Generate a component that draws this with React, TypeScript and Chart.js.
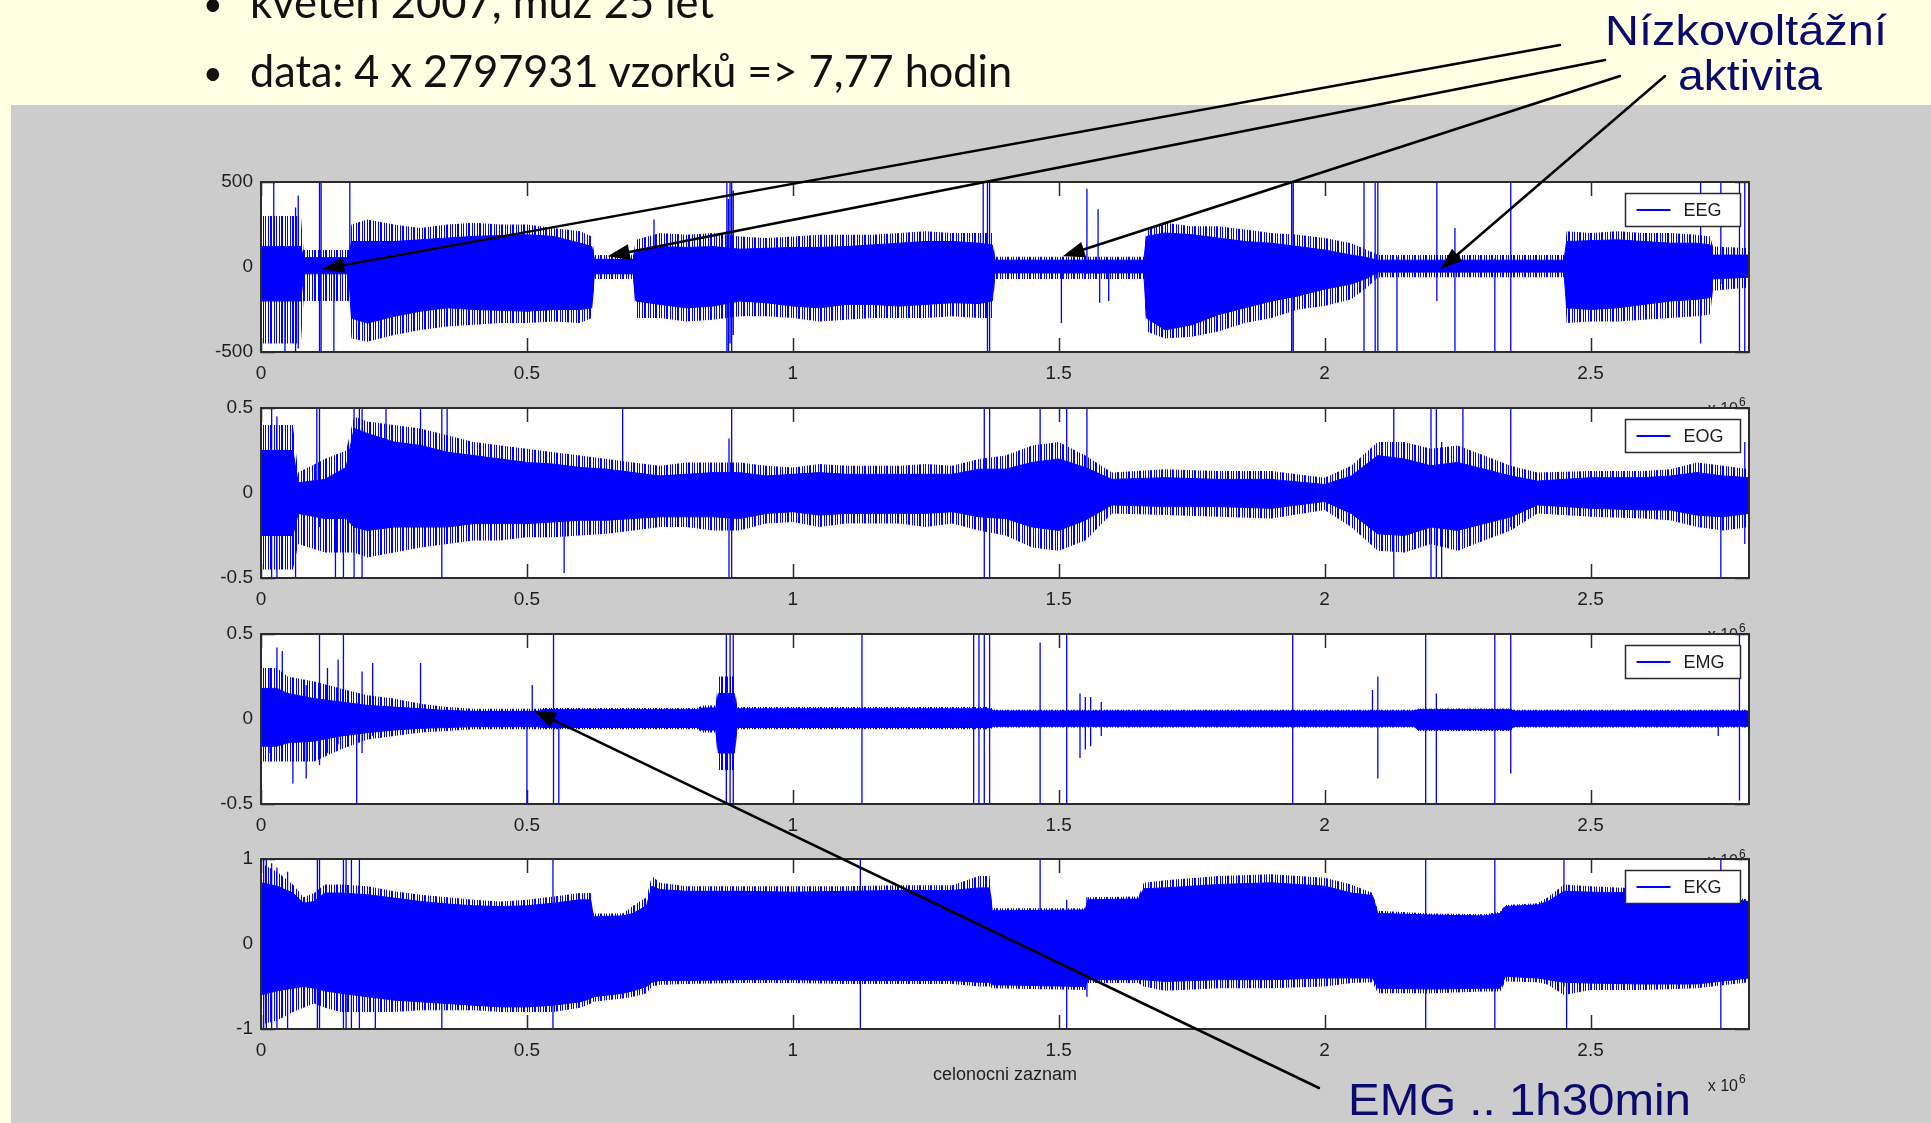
import { useEffect, useRef } from "react";
import { Chart, registerables } from "chart.js";

Chart.register(...registerables);

// Horizontal axis: sample index, in units of 10^6 samples
const SAMPLE_COUNT = 2.797931;
const X_STEP = 0.5;

// ---------- EEG (µV) ----------
const eegX = [0, 0.075, 0.08, 0.165, 0.17, 0.2, 0.25, 0.3, 0.35, 0.4, 0.45, 0.5, 0.55, 0.6, 0.622, 0.627, 0.7, 0.705, 0.75, 0.8, 0.85, 0.9, 0.95, 1.0, 1.05, 1.1, 1.15, 1.2, 1.25, 1.3, 1.35, 1.375, 1.38, 1.66, 1.665, 1.7, 1.75, 1.8, 1.85, 1.9, 1.95, 2.0, 2.05, 2.08, 2.1, 2.45, 2.455, 2.5, 2.55, 2.6, 2.65, 2.7, 2.725, 2.73, 2.797931];
const eegHi = [120, 120, 55, 55, 150, 150, 150, 160, 170, 180, 185, 190, 180, 140, 120, 45, 45, 100, 120, 115, 120, 105, 110, 115, 115, 120, 130, 140, 150, 150, 140, 130, 40, 40, 180, 200, 190, 170, 150, 140, 120, 100, 70, 55, 40, 40, 150, 155, 160, 150, 140, 140, 130, 70, 70];
const eegLo = [-200, -200, -40, -40, -300, -330, -290, -260, -240, -250, -255, -260, -250, -250, -240, -40, -40, -200, -220, -240, -230, -200, -210, -230, -240, -220, -220, -230, -220, -210, -215, -200, -35, -35, -300, -370, -340, -280, -240, -200, -170, -130, -100, -65, -30, -30, -240, -250, -240, -220, -200, -190, -180, -70, -60];
const eegPeakHi = [300, 300, 100, 100, 250, 280, 250, 230, 250, 260, 250, 250, 230, 210, 180, 70, 70, 160, 200, 190, 200, 180, 170, 180, 190, 190, 190, 200, 210, 200, 200, 200, 60, 60, 230, 260, 240, 240, 220, 200, 190, 170, 140, 100, 70, 70, 210, 200, 210, 200, 200, 190, 180, 120, 110];
const eegPeakLo = [-450, -450, -200, -200, -420, -440, -400, -370, -350, -340, -330, -330, -320, -330, -300, -70, -70, -300, -300, -320, -310, -290, -290, -300, -320, -310, -300, -300, -300, -290, -300, -300, -70, -70, -380, -420, -410, -380, -330, -300, -250, -230, -190, -120, -60, -60, -330, -320, -320, -310, -300, -290, -280, -140, -120];
const eegSpikeX = [0.024, 0.045, 0.065, 0.07, 0.11, 0.113, 0.137, 0.167, 0.739, 0.876, 0.879, 0.882, 0.885, 0.888, 1.358, 1.366, 1.37, 1.505, 1.553, 1.574, 1.577, 1.594, 1.938, 1.941, 2.074, 2.095, 2.1, 2.136, 2.211, 2.245, 2.32, 2.35, 2.707, 2.745, 2.78, 2.79];
const eegSpikeLo = [-100, -500, -500, -480, -500, -500, -500, -100, -100, -500, -500, -450, -500, -400, -200, -500, -500, -330, -40, -40, -210, -200, -500, -500, -500, -500, -500, -500, -200, -500, -500, -500, -450, -100, -500, -500];
const eegSpikeHi = [500, 100, 350, 420, 500, 500, 50, 500, 280, 500, 400, 500, 500, 450, 500, 500, 500, 40, 460, 340, 40, 40, 500, 500, 500, 500, 500, 60, 500, 230, 50, 500, 500, 500, 500, 500];

// ---------- EOG ----------
const eogX = [0, 0.06, 0.07, 0.12, 0.16, 0.175, 0.2, 0.25, 0.3, 0.35, 0.4, 0.45, 0.5, 0.55, 0.6, 0.65, 0.7, 0.75, 0.8, 0.85, 0.9, 0.95, 1.0, 1.05, 1.1, 1.15, 1.2, 1.25, 1.3, 1.35, 1.4, 1.45, 1.5, 1.55, 1.6, 1.7, 1.8, 1.9, 2.0, 2.05, 2.1, 2.15, 2.2, 2.25, 2.3, 2.35, 2.4, 2.5, 2.6, 2.65, 2.7, 2.75, 2.797931];
const eogHi = [0.25, 0.25, 0.06, 0.08, 0.15, 0.38, 0.35, 0.3, 0.28, 0.24, 0.22, 0.2, 0.18, 0.17, 0.15, 0.14, 0.12, 0.1, 0.11, 0.12, 0.12, 0.1, 0.11, 0.12, 0.11, 0.11, 0.11, 0.11, 0.11, 0.14, 0.14, 0.18, 0.2, 0.15, 0.08, 0.09, 0.08, 0.08, 0.05, 0.1, 0.22, 0.2, 0.16, 0.18, 0.14, 0.1, 0.07, 0.09, 0.09, 0.1, 0.12, 0.1, 0.09];
const eogLo = [-0.25, -0.25, -0.12, -0.15, -0.15, -0.2, -0.22, -0.2, -0.2, -0.2, -0.18, -0.18, -0.18, -0.17, -0.16, -0.16, -0.15, -0.14, -0.14, -0.14, -0.15, -0.12, -0.11, -0.13, -0.12, -0.12, -0.12, -0.12, -0.11, -0.14, -0.15, -0.2, -0.22, -0.16, -0.07, -0.08, -0.08, -0.09, -0.05, -0.12, -0.24, -0.25, -0.2, -0.22, -0.18, -0.14, -0.07, -0.09, -0.1, -0.1, -0.13, -0.14, -0.12];
const eogPeakHi = [0.4, 0.4, 0.12, 0.2, 0.25, 0.45, 0.42, 0.4, 0.38, 0.34, 0.3, 0.28, 0.26, 0.24, 0.22, 0.2, 0.18, 0.16, 0.18, 0.18, 0.18, 0.16, 0.15, 0.17, 0.16, 0.16, 0.16, 0.17, 0.16, 0.2, 0.22, 0.28, 0.3, 0.22, 0.12, 0.14, 0.13, 0.13, 0.09, 0.16, 0.3, 0.3, 0.26, 0.28, 0.22, 0.16, 0.12, 0.13, 0.13, 0.14, 0.18, 0.16, 0.14];
const eogPeakLo = [-0.45, -0.45, -0.3, -0.35, -0.35, -0.35, -0.38, -0.35, -0.32, -0.3, -0.28, -0.28, -0.26, -0.26, -0.25, -0.24, -0.22, -0.2, -0.2, -0.22, -0.22, -0.18, -0.17, -0.2, -0.18, -0.18, -0.18, -0.2, -0.18, -0.22, -0.25, -0.32, -0.34, -0.28, -0.12, -0.13, -0.14, -0.15, -0.1, -0.2, -0.34, -0.35, -0.3, -0.34, -0.28, -0.22, -0.12, -0.14, -0.15, -0.16, -0.2, -0.22, -0.2];
const eogSpikeX = [0.02, 0.03, 0.065, 0.105, 0.11, 0.14, 0.155, 0.175, 0.185, 0.19, 0.235, 0.3, 0.34, 0.35, 0.57, 0.68, 0.88, 0.885, 1.36, 1.37, 1.465, 1.515, 1.553, 2.13, 2.2, 2.21, 2.22, 2.26, 2.35, 2.745, 2.79];
const eogSpikeLo = [-0.5, -0.5, -0.5, -0.1, -0.2, -0.5, -0.5, -0.5, -0.3, -0.5, -0.1, -0.1, -0.5, -0.1, -0.47, -0.1, -0.5, -0.5, -0.5, -0.5, -0.2, -0.2, -0.1, -0.5, -0.5, -0.5, -0.5, -0.2, -0.2, -0.5, -0.3];
const eogSpikeHi = [0.5, 0.45, 0.1, 0.5, 0.5, 0.1, 0.1, 0.5, 0.5, 0.5, 0.5, 0.5, 0.5, 0.5, 0.1, 0.5, 0.32, 0.5, 0.5, 0.5, 0.5, 0.5, 0.5, 0.5, 0.5, 0.5, 0.3, 0.5, 0.5, 0.1, 0.3];

// ---------- EMG ----------
const emgX = [0, 0.03, 0.05, 0.1, 0.15, 0.2, 0.25, 0.3, 0.35, 0.4, 0.52, 0.53, 0.82, 0.83, 0.855, 0.86, 0.89, 0.895, 1.37, 1.38, 2.17, 2.175, 2.35, 2.355, 2.797931];
const emgHi = [0.18, 0.18, 0.15, 0.12, 0.1, 0.08, 0.07, 0.06, 0.05, 0.045, 0.045, 0.055, 0.055, 0.065, 0.065, 0.15, 0.15, 0.06, 0.06, 0.047, 0.047, 0.055, 0.055, 0.047, 0.047];
const emgLo = [-0.16, -0.16, -0.14, -0.13, -0.1, -0.08, -0.065, -0.055, -0.05, -0.045, -0.045, -0.05, -0.05, -0.065, -0.065, -0.2, -0.2, -0.05, -0.05, -0.043, -0.043, -0.063, -0.063, -0.043, -0.043];
const emgPeakHi = [0.3, 0.3, 0.25, 0.22, 0.18, 0.14, 0.12, 0.09, 0.07, 0.06, 0.06, 0.065, 0.065, 0.08, 0.08, 0.25, 0.25, 0.07, 0.07, 0.055, 0.055, 0.062, 0.062, 0.055, 0.055];
const emgPeakLo = [-0.25, -0.25, -0.25, -0.25, -0.18, -0.12, -0.1, -0.08, -0.07, -0.06, -0.06, -0.06, -0.06, -0.08, -0.08, -0.3, -0.3, -0.06, -0.06, -0.05, -0.05, -0.07, -0.07, -0.05, -0.05];
const emgSpikeX = [0.015, 0.03, 0.04, 0.06, 0.085, 0.11, 0.125, 0.145, 0.155, 0.18, 0.19, 0.21, 0.3, 0.5, 0.51, 0.55, 0.56, 0.875, 0.882, 0.888, 1.13, 1.34, 1.35, 1.36, 1.37, 1.465, 1.515, 1.54, 1.55, 1.56, 1.58, 1.94, 2.09, 2.1, 2.19, 2.21, 2.32, 2.35, 2.74, 2.78];
const emgSpikeLo = [-0.2, -0.1, -0.15, -0.38, -0.35, -0.27, -0.2, -0.15, -0.1, -0.5, -0.2, -0.1, -0.05, -0.5, -0.05, -0.5, -0.5, -0.5, -0.5, -0.5, -0.5, -0.5, -0.5, -0.5, -0.5, -0.5, -0.5, -0.23, -0.18, -0.16, -0.1, -0.5, -0.05, -0.35, -0.5, -0.5, -0.5, -0.32, -0.1, -0.48];
const emgSpikeHi = [0.3, 0.42, 0.4, 0.1, 0.2, 0.5, 0.3, 0.35, 0.5, 0.1, 0.28, 0.33, 0.33, 0.05, 0.2, 0.5, 0.05, 0.5, 0.5, 0.5, 0.5, 0.5, 0.5, 0.5, 0.5, 0.45, 0.5, 0.15, 0.13, 0.13, 0.1, 0.5, 0.17, 0.25, 0.5, 0.15, 0.5, 0.5, 0.05, 0.5];

// ---------- EKG ----------
const ekgX = [0, 0.03, 0.06, 0.08, 0.1, 0.12, 0.15, 0.2, 0.25, 0.3, 0.35, 0.4, 0.45, 0.5, 0.55, 0.6, 0.62, 0.625, 0.68, 0.7, 0.725, 0.735, 0.75, 0.8, 0.9, 1.0, 1.1, 1.2, 1.3, 1.35, 1.37, 1.375, 1.55, 1.555, 1.65, 1.66, 1.7, 1.8, 1.9, 2.0, 2.05, 2.09, 2.1, 2.2, 2.3, 2.33, 2.34, 2.4, 2.42, 2.45, 2.5, 2.6, 2.7, 2.797931];
const ekgHi = [0.72, 0.68, 0.6, 0.48, 0.5, 0.6, 0.6, 0.58, 0.54, 0.5, 0.47, 0.45, 0.44, 0.45, 0.48, 0.52, 0.52, 0.32, 0.33, 0.36, 0.45, 0.68, 0.64, 0.62, 0.62, 0.61, 0.62, 0.63, 0.63, 0.66, 0.66, 0.39, 0.4, 0.52, 0.53, 0.65, 0.66, 0.7, 0.72, 0.68, 0.6, 0.57, 0.36, 0.34, 0.33, 0.36, 0.44, 0.46, 0.5, 0.62, 0.61, 0.6, 0.58, 0.5];
const ekgLo = [-0.6, -0.55, -0.52, -0.5, -0.52, -0.55, -0.58, -0.62, -0.66, -0.68, -0.7, -0.72, -0.74, -0.74, -0.72, -0.68, -0.64, -0.62, -0.58, -0.55, -0.5, -0.45, -0.43, -0.43, -0.42, -0.42, -0.43, -0.43, -0.43, -0.45, -0.45, -0.48, -0.5, -0.42, -0.42, -0.42, -0.44, -0.42, -0.42, -0.4, -0.4, -0.4, -0.52, -0.53, -0.52, -0.52, -0.38, -0.4, -0.42, -0.45, -0.46, -0.47, -0.47, -0.4];
const ekgPeakHi = [0.95, 0.85, 0.7, 0.55, 0.6, 0.7, 0.7, 0.68, 0.62, 0.58, 0.55, 0.52, 0.5, 0.52, 0.56, 0.6, 0.6, 0.36, 0.36, 0.45, 0.55, 0.8, 0.72, 0.68, 0.68, 0.68, 0.68, 0.69, 0.69, 0.8, 0.8, 0.42, 0.42, 0.55, 0.56, 0.72, 0.75, 0.8, 0.82, 0.78, 0.7, 0.6, 0.39, 0.36, 0.35, 0.38, 0.46, 0.48, 0.55, 0.7, 0.68, 0.65, 0.62, 0.52];
const ekgPeakLo = [-0.95, -0.9, -0.8, -0.75, -0.7, -0.75, -0.8, -0.8, -0.8, -0.78, -0.78, -0.78, -0.8, -0.8, -0.8, -0.75, -0.7, -0.68, -0.64, -0.62, -0.58, -0.5, -0.48, -0.47, -0.46, -0.46, -0.47, -0.47, -0.47, -0.5, -0.5, -0.52, -0.54, -0.46, -0.46, -0.5, -0.55, -0.52, -0.52, -0.5, -0.46, -0.45, -0.58, -0.58, -0.56, -0.56, -0.44, -0.45, -0.48, -0.6, -0.54, -0.54, -0.52, -0.45];
const ekgSpikeX = [0.005, 0.01, 0.02, 0.03, 0.05, 0.106, 0.11, 0.155, 0.16, 0.17, 0.185, 0.215, 0.34, 0.549, 1.127, 1.465, 1.515, 1.553, 2.19, 2.32, 2.45, 2.455, 2.745];
const ekgSpikeLo = [-1, -1, -1, -1, -1, -1, -1, -1, -1, -1, -1, -1, -1, -1, -1, -0.4, -1, -0.62, -1, -1, -0.5, -1, -1];
const ekgSpikeHi = [1, 1, 0.95, 0.9, 0.85, 1, 1, 1, 1, 1, 1, 0.5, 0.5, 1, 1, 1, 0.52, 0.55, 1, 1, 1, 0.5, 1];

// Arrow targets: low-voltage stretches in the EEG, quiet EMG stretch
const lowVoltageX = [0.115, 0.652, 1.5075, 2.218];
const lowVoltageY = [-12, 63, 63, -12];
const quietEmgX = 0.513;
const quietEmgY = 0.05;

type Trace = {
  name: string;
  min: number;
  max: number;
  step: number;
  x: number[];
  hi: number[];
  lo: number[];
  peakHi: number[];
  peakLo: number[];
  spikeX: number[];
  spikeLo: number[];
  spikeHi: number[];
  xTitle?: string;
};

const TRACES: Trace[] = [
  { name: "EEG", min: -500, max: 500, step: 500, x: eegX, hi: eegHi, lo: eegLo, peakHi: eegPeakHi, peakLo: eegPeakLo, spikeX: eegSpikeX, spikeLo: eegSpikeLo, spikeHi: eegSpikeHi },
  { name: "EOG", min: -0.5, max: 0.5, step: 0.5, x: eogX, hi: eogHi, lo: eogLo, peakHi: eogPeakHi, peakLo: eogPeakLo, spikeX: eogSpikeX, spikeLo: eogSpikeLo, spikeHi: eogSpikeHi },
  { name: "EMG", min: -0.5, max: 0.5, step: 0.5, x: emgX, hi: emgHi, lo: emgLo, peakHi: emgPeakHi, peakLo: emgPeakLo, spikeX: emgSpikeX, spikeLo: emgSpikeLo, spikeHi: emgSpikeHi },
  { name: "EKG", min: -1, max: 1, step: 1, x: ekgX, hi: ekgHi, lo: ekgLo, peakHi: ekgPeakHi, peakLo: ekgPeakLo, spikeX: ekgSpikeX, spikeLo: ekgSpikeLo, spikeHi: ekgSpikeHi, xTitle: "celonocni zaznam" },
];

// Page layout
const PAGE_W = 1931;
const PAGE_H = 1123;
const PLOT_LEFT = 261;
const PLOT_WIDTH = 1488;
const PLOT_HEIGHT = 170;
const PLOT_TOPS = [182, 408, 634, 859];
const Y_AXIS_W = 70;
const PAD_TOP = 26;
const PAD_RIGHT = 20;
const X_AXIS_H = 75;
const CANVAS_W = Y_AXIS_W + PLOT_WIDTH + PAD_RIGHT;
const CANVAS_H = PAD_TOP + PLOT_HEIGHT + X_AXIS_H;
const CANVAS_LEFT = PLOT_LEFT - Y_AXIS_W;
const TICK_LEN = 14;

const BLUE = "#0000ff";
const AXIS = "#2b2b2b";
const TEXT = "#1e1e1e";
const NAVY = "#0b0b6e";
const FONT = "'Liberation Sans', Arial, Helvetica, sans-serif";

// irregular vertical hatching for the sparse fringe of each trace
function fringe(color: string): CanvasPattern | string {
  const c = document.createElement("canvas");
  c.width = 11;
  c.height = 1;
  const g = c.getContext("2d");
  if (!g) return color;
  g.fillStyle = color;
  [0, 2, 3, 6, 8].forEach((col) => g.fillRect(col, 0, 1, 1));
  return g.createPattern(c, "repeat") || color;
}

function makeChart(canvas: HTMLCanvasElement, s: Trace) {
  const pts = (xs: number[], ys: number[]) => xs.map((x, i) => ({ x, y: ys[i] }));
  const spikes: { x: number; y: number | null }[] = [];
  s.spikeX.forEach((x, i) => {
    spikes.push({ x, y: s.spikeLo[i] }, { x, y: s.spikeHi[i] }, { x, y: null });
  });

  const axesPlugin = {
    id: "matlabAxes",
    beforeDraw(chart: any) {
      const { ctx, chartArea: a } = chart;
      ctx.save();
      ctx.fillStyle = "#ffffff";
      ctx.fillRect(a.left, a.top, a.right - a.left, a.bottom - a.top);
      ctx.restore();
    },
    beforeDatasetsDraw(chart: any) {
      const { ctx, chartArea: a, scales } = chart;
      ctx.save();
      ctx.strokeStyle = AXIS;
      ctx.lineWidth = 1.5;
      ctx.beginPath();
      for (const t of scales.x.ticks) {
        const px = Math.round(scales.x.getPixelForValue(t.value)) + 0.5;
        ctx.moveTo(px, a.top);
        ctx.lineTo(px, a.top + TICK_LEN);
        ctx.moveTo(px, a.bottom);
        ctx.lineTo(px, a.bottom - TICK_LEN);
      }
      for (const t of scales.y.ticks) {
        const py = Math.round(scales.y.getPixelForValue(t.value)) + 0.5;
        ctx.moveTo(a.left, py);
        ctx.lineTo(a.left + TICK_LEN, py);
        ctx.moveTo(a.right, py);
        ctx.lineTo(a.right - TICK_LEN, py);
      }
      ctx.stroke();
      ctx.restore();
    },
    afterDatasetsDraw(chart: any) {
      const { ctx, chartArea: a } = chart;
      ctx.save();
      // axes box
      ctx.strokeStyle = AXIS;
      ctx.lineWidth = 2;
      ctx.strokeRect(a.left, a.top, a.right - a.left, a.bottom - a.top);

      // legend
      const w = 115;
      const h = 33;
      const bx = Math.round(a.right - 9 - w) + 0.5;
      const by = Math.round(a.top + 11) + 0.5;
      ctx.fillStyle = "#ffffff";
      ctx.fillRect(bx, by, w, h);
      ctx.lineWidth = 1.5;
      ctx.strokeStyle = AXIS;
      ctx.strokeRect(bx, by, w, h);
      ctx.strokeStyle = BLUE;
      ctx.lineWidth = 2;
      ctx.beginPath();
      ctx.moveTo(bx + 11, by + h / 2);
      ctx.lineTo(bx + 45, by + h / 2);
      ctx.stroke();
      ctx.fillStyle = TEXT;
      ctx.font = `18px ${FONT}`;
      ctx.textAlign = "left";
      ctx.textBaseline = "middle";
      ctx.fillText(s.name, bx + 58, by + h / 2 + 1);

      // axis exponent
      ctx.textBaseline = "alphabetic";
      ctx.textAlign = "right";
      ctx.font = `16px ${FONT}`;
      ctx.fillText("x 10", a.right - 11, a.bottom + 62);
      ctx.textAlign = "left";
      ctx.font = `12px ${FONT}`;
      ctx.fillText("6", a.right - 10, a.bottom + 54);

      if (s.xTitle) {
        ctx.textAlign = "center";
        ctx.font = `18px ${FONT}`;
        ctx.fillText(s.xTitle, (a.left + a.right) / 2, a.bottom + 51);
      }
      ctx.restore();
    },
  };

  const edge = "rgba(0,0,0,0)";
  return new Chart(canvas, {
    type: "line",
    data: {
      datasets: [
        { label: s.name, data: pts(s.x, s.peakHi), fill: "+1", backgroundColor: fringe(BLUE) as any, borderColor: edge, borderWidth: 0, pointRadius: 0 },
        { label: s.name + " min", data: pts(s.x, s.peakLo), fill: false, borderColor: edge, borderWidth: 0, pointRadius: 0 },
        { label: s.name + " core", data: pts(s.x, s.hi), fill: "+1", backgroundColor: BLUE, borderColor: BLUE, borderWidth: 1, pointRadius: 0 },
        { label: s.name + " core min", data: pts(s.x, s.lo), fill: false, borderColor: BLUE, borderWidth: 1, pointRadius: 0 },
        { label: s.name + " spikes", data: spikes as any, fill: false, borderColor: BLUE, borderWidth: 1.3, pointRadius: 0, spanGaps: false },
      ],
    },
    options: {
      responsive: false,
      animation: false,
      devicePixelRatio: 1,
      events: [],
      layout: { padding: { top: PAD_TOP, right: PAD_RIGHT, left: 0, bottom: 0 } },
      elements: { line: { tension: 0 } },
      plugins: { legend: { display: false }, tooltip: { enabled: false } },
      scales: {
        x: {
          type: "linear",
          min: 0,
          max: SAMPLE_COUNT,
          grid: { display: false, drawTicks: false },
          border: { display: false },
          ticks: {
            stepSize: X_STEP,
            includeBounds: false,
            autoSkip: false,
            maxRotation: 0,
            padding: 10,
            color: TEXT,
            font: { family: FONT, size: 19 },
            callback: (v: any) => String(v),
          },
          afterFit: (sc: any) => {
            sc.height = X_AXIS_H;
          },
        },
        y: {
          type: "linear",
          min: s.min,
          max: s.max,
          grid: { display: false, drawTicks: false },
          border: { display: false },
          ticks: {
            stepSize: s.step,
            padding: 8,
            color: TEXT,
            font: { family: FONT, size: 19 },
            callback: (v: any) => String(v),
          },
          afterFit: (sc: any) => {
            sc.width = Y_AXIS_W;
          },
        },
      },
    },
    plugins: [axesPlugin],
  } as any);
}

function drawArrow(ctx: CanvasRenderingContext2D, x0: number, y0: number, x1: number, y1: number) {
  const ang = Math.atan2(y1 - y0, x1 - x0);
  const len = 22;
  const half = 8;
  const bx = x1 - len * Math.cos(ang);
  const by = y1 - len * Math.sin(ang);
  ctx.beginPath();
  ctx.moveTo(x0, y0);
  ctx.lineTo(bx, by);
  ctx.stroke();
  ctx.beginPath();
  ctx.moveTo(x1, y1);
  ctx.lineTo(bx + half * Math.sin(ang), by - half * Math.cos(ang));
  ctx.lineTo(bx - half * Math.sin(ang), by + half * Math.cos(ang));
  ctx.closePath();
  ctx.fill();
}

export default function App() {
  const canvasRefs = useRef<(HTMLCanvasElement | null)[]>([]);
  const overlayRef = useRef<HTMLCanvasElement | null>(null);

  useEffect(() => {
    const charts = TRACES.map((s, i) => makeChart(canvasRefs.current[i] as HTMLCanvasElement, s));

    // keep each plot box at its place on the page, whatever padding the layout settled on
    const offsets = charts.map((c: any, i) => {
      const top = PLOT_TOPS[i] - c.chartArea.top;
      const el = canvasRefs.current[i];
      if (el) el.style.top = `${top}px`;
      return top;
    });

    const ov = overlayRef.current;
    const ctx = ov ? ov.getContext("2d") : null;
    if (ctx) {
      ctx.clearRect(0, 0, PAGE_W, PAGE_H);
      ctx.strokeStyle = "#000000";
      ctx.fillStyle = "#000000";
      ctx.lineWidth = 2.5;
      ctx.lineCap = "round";
      const toPage = (chartIdx: number, x: number, y: number) => {
        const c = charts[chartIdx] as any;
        return [CANVAS_LEFT + c.scales.x.getPixelForValue(x), offsets[chartIdx] + c.scales.y.getPixelForValue(y)];
      };
      const tails = [
        [1560, 45],
        [1605, 60],
        [1620, 76],
        [1665, 76],
      ];
      lowVoltageX.forEach((x, i) => {
        const [hx, hy] = toPage(0, x, lowVoltageY[i]);
        drawArrow(ctx, tails[i][0], tails[i][1], hx, hy);
      });
      const [ex, ey] = toPage(2, quietEmgX, quietEmgY);
      drawArrow(ctx, 1319, 1088, ex, ey);
    }

    return () => {
      charts.forEach((c) => c.destroy());
    };
  }, []);

  return (
    <div
      style={{
        position: "absolute",
        left: 0,
        top: 0,
        width: PAGE_W,
        height: PAGE_H,
        overflow: "hidden",
        background: "#ffffe3",
      }}
    >
      <div
        style={{
          position: "absolute",
          left: 11,
          top: 105,
          width: PAGE_W - 11,
          height: PAGE_H - 105,
          background: "#cccccc",
        }}
      />
      {TRACES.map((s, i) => (
        <canvas
          key={s.name}
          ref={(el) => {
            canvasRefs.current[i] = el;
          }}
          width={CANVAS_W}
          height={CANVAS_H}
          style={{
            position: "absolute",
            left: CANVAS_LEFT,
            top: PLOT_TOPS[i] - PAD_TOP,
            width: CANVAS_W,
            height: CANVAS_H,
          }}
        />
      ))}
      <canvas
        ref={overlayRef}
        width={PAGE_W}
        height={PAGE_H}
        style={{ position: "absolute", left: 0, top: 0, width: PAGE_W, height: PAGE_H, pointerEvents: "none" }}
      />
      <svg
        width={PAGE_W}
        height={PAGE_H}
        style={{ position: "absolute", left: 0, top: 0, pointerEvents: "none" }}
      >
        <g fontFamily="Lato, 'Noto Sans', sans-serif" fill="#111111">
          <text x={203} y={16} fontSize={34}>•</text>
          <text x={250} y={18} fontSize={45} textLength={464} lengthAdjust="spacingAndGlyphs">
            květen 2007, muž 25 let
          </text>
          <text x={203} y={85} fontSize={34}>•</text>
          <text x={250} y={87} fontSize={45} textLength={762} lengthAdjust="spacingAndGlyphs">
            data: 4 x 2797931 vzorků =&gt; 7,77 hodin
          </text>
        </g>
        <g fontFamily={FONT} fill={NAVY}>
          <text x={1605} y={45} fontSize={42} textLength={282} lengthAdjust="spacingAndGlyphs">
            Nízkovoltážní
          </text>
          <text x={1678} y={90} fontSize={42} textLength={144} lengthAdjust="spacingAndGlyphs">
            aktivita
          </text>
          <text x={1348} y={1115} fontSize={44} textLength={343} lengthAdjust="spacingAndGlyphs">
            EMG .. 1h30min
          </text>
        </g>
      </svg>
    </div>
  );
}
